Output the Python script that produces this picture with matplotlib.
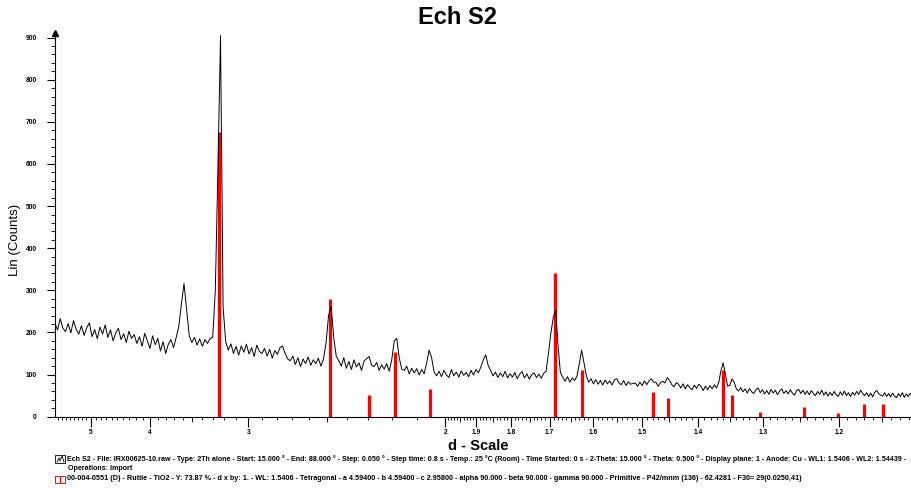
import numpy as np
import matplotlib
matplotlib.use("Agg")
import matplotlib.pyplot as plt
from matplotlib.ticker import FixedLocator, FixedFormatter, MultipleLocator, NullFormatter
from matplotlib.patches import Rectangle
from matplotlib.lines import Line2D

plt.rcParams['font.family'] = ['Liberation Sans', 'DejaVu Sans']

# ---------------- data ----------------
WAVELENGTH = 1.5406          # Cu K-alpha1 (Angstrom)
TWO_THETA_START = 15.0       # degrees
TWO_THETA_STEP = 0.2         # degrees

counts = [
    222, 206, 233, 210, 202, 221, 199, 228, 208, 196,   # 15
    216, 193, 211, 223, 190, 207, 185, 213, 196, 218,   # 17
    188, 206, 180, 199, 210, 183, 197, 176, 203, 186,   # 19
    195, 174, 190, 167, 198, 180, 162, 192, 171, 186,   # 21
    156, 178, 150, 172, 183, 164, 188, 214, 268, 316,   # 23
    255, 192, 176, 188, 170, 185, 167, 183, 174, 186,   # 25
    188, 300, 585, 905, 260, 178, 158, 173, 150, 167,   # 27
    146, 168, 153, 172, 149, 164, 143, 170, 155, 150,   # 29
    162, 144, 160, 139, 157, 148, 164, 168, 150, 137,   # 31
    133, 144, 124, 140, 119, 137, 126, 142, 122, 135,   # 33
    126, 139, 120, 137, 175, 240, 262, 190, 144, 133,   # 35
    120, 140, 115, 131, 112, 135, 118, 128, 110, 132,   # 37
    138, 143, 122, 119, 129, 110, 123, 113, 126, 108,   # 39
    135, 180, 186, 140, 113, 110, 120, 102, 115, 104,   # 41
    114, 99, 112, 102, 128, 158, 140, 106, 97, 108,     # 43
    95, 110, 99, 93, 112, 97, 106, 94, 109, 98,         # 45
    105, 95, 110, 99, 112, 104, 118, 135, 147, 122,     # 47
    110, 97, 106, 93, 104, 95, 108, 92, 102, 94,        # 49
    105, 90, 101, 107, 92, 102, 89, 100, 104, 93,       # 51
    101, 91, 103, 108, 150, 198, 235, 255, 170, 105,    # 53
    94, 84, 95, 82, 92, 86, 96, 125, 158, 128,          # 55
    97, 82, 90, 78, 88, 77, 86, 75, 87, 78,             # 57
    85, 75, 88, 90, 80, 76, 86, 74, 83, 77,             # 59
    79, 80, 72, 82, 74, 85, 76, 85, 90, 82,             # 61
    82, 72, 81, 84, 80, 93, 86, 76, 71, 81,             # 63
    77, 68, 78, 66, 76, 69, 64, 75, 67, 77,             # 65
    72, 62, 73, 64, 74, 66, 76, 68, 82, 110,            # 67
    128, 100, 73, 74, 90, 82, 66, 61, 69, 59,           # 69
    66, 56, 67, 59, 55, 65, 68, 57, 64, 54,             # 71
    62, 53, 65, 56, 63, 52, 61, 66, 55, 62,             # 73
    54, 64, 56, 51, 62, 65, 55, 63, 53, 61,             # 75
    52, 62, 55, 50, 60, 53, 63, 51, 59, 49,             # 77
    58, 50, 60, 52, 48, 59, 51, 61, 50, 57,             # 79
    48, 58, 51, 60, 53, 63, 55, 50, 57, 48,             # 81
    56, 47, 58, 62, 55, 51, 49, 57, 48, 55,             # 83
    47, 56, 49, 45, 55, 48, 57, 46, 54, 48,             # 85
    55, 51,                                             # 87
]

# Rutile reference pattern (00-004-0551): d-spacings and stick heights (counts)
ref_d = [3.247, 2.487, 2.297, 2.188, 2.054, 1.6874, 1.6237, 1.4797,
         1.4528, 1.3598, 1.3465, 1.3041, 1.2441, 1.2015, 1.1700, 1.1485]
ref_intensity = [677, 279, 51, 153, 65, 341, 111, 59,
                 44, 111, 52, 12, 22, 9, 30, 31]

major_d = [5, 4, 3, 2, 1.9, 1.8, 1.7, 1.6, 1.5, 1.4, 1.3, 1.2]
major_labels = ["5", "4", "3", "2", "1.9", "1.8", "1.7", "1.6", "1.5", "1.4", "1.3", "1.2"]
medium_d = [3.5, 2.5, 1.95, 1.85, 1.75, 1.65, 1.55, 1.45, 1.35, 1.25, 1.15]

title = "Ech S2"
xlabel = "d - Scale"
ylabel = "Lin (Counts)"
legend_line1 = ("Ech S2 - File: IRX00625-10.raw - Type: 2Th alone - Start: 15.000 \u00b0 - End: 88.000 \u00b0 - "
                "Step: 0.050 \u00b0 - Step time: 0.8 s - Temp.: 25 \u00b0C (Room) - Time Started: 0 s - "
                "2-Theta: 15.000 \u00b0 - Theta: 0.500 \u00b0 - Display plane: 1 - Anode: Cu - WL1: 1.5406 - "
                "WL2: 1.54439 -")
legend_line2 = "Operations: Import"
legend_line3 = ("00-004-0551 (D) - Rutile - TiO2 - Y: 73.87 % - d x by: 1. - WL: 1.5406 - Tetragonal - "
                "a 4.59400 - b 4.59400 - c 2.95800 - alpha 90.000 - beta 90.000 - gamma 90.000 - "
                "Primitive - P42/mnm (136) - 62.4281 - F30= 29(0.0250,41)")

# ---------------- conversions ----------------
counts = np.array(counts, dtype=float)
two_theta = TWO_THETA_START + TWO_THETA_STEP * np.arange(len(counts))
x_data = 2.0 * np.sin(np.radians(two_theta / 2.0)) / WAVELENGTH   # = 1/d
x_ref = 1.0 / np.array(ref_d)

# ---------------- figure ----------------
W, H = 912, 488
fig = plt.figure(figsize=(W / 100, H / 100), dpi=100)
ax_left, ax_right, ax_top, ax_bottom = 55, 912, 33, 416.7
ax = fig.add_axes([ax_left / W, (H - ax_bottom) / H, (ax_right - ax_left) / W, (ax_bottom - ax_top) / H])

ax.vlines(x_ref, 0, ref_intensity, color='#ff0000', lw=2.3, zorder=2)
ax.plot(x_data, counts, color='black', lw=0.7, zorder=3)

ax.set_xlim(0.16952, 0.89518)
ax.set_ylim(0, 911)

for s in ['top', 'right']:
    ax.spines[s].set_visible(False)
for s in ['left', 'bottom']:
    ax.spines[s].set_linewidth(0.8)

# x ticks (d-scale)
ax.xaxis.set_major_locator(FixedLocator([1.0 / d for d in major_d]))
ax.xaxis.set_major_formatter(FixedFormatter(major_labels))
minor_d = [d for d in np.round(np.arange(2.1, 5.85, 0.1), 2) if d not in major_d]
minor_d += [d for d in np.round(np.arange(1.11, 2.0, 0.01), 2) if d not in major_d]
ax.xaxis.set_minor_locator(FixedLocator([1.0 / d for d in minor_d]))
ax.xaxis.set_minor_formatter(NullFormatter())
ax.tick_params(axis='x', which='major', length=7, width=0.8, direction='out', pad=2,
               labelsize=4.8)
ax.tick_params(axis='x', which='minor', length=2.5, width=0.6, direction='out')
for lab in ax.get_xticklabels():
    lab.set_fontweight('bold')
ax.vlines([1.0 / d for d in medium_d], -0.013, 0, transform=ax.get_xaxis_transform(),
          color='black', lw=0.6, clip_on=False)

# y ticks
ax.yaxis.set_major_locator(MultipleLocator(100))
ax.yaxis.set_minor_locator(MultipleLocator(20))
ax.tick_params(axis='y', which='major', length=6, width=0.8, direction='out', pad=7,
               labelsize=4.8)
ax.tick_params(axis='y', which='minor', length=3, width=0.6, direction='out')
for lab in ax.get_yticklabels():
    lab.set_fontweight('bold')

# arrow at top of y axis
ax.plot([0], [1], marker='^', color='black', markersize=4, transform=ax.transAxes, clip_on=False)

# texts
fig.text(458 / W, 1 - 18 / H, title, ha='center', va='center', fontsize=17, fontweight='bold')
fig.text(478 / W, 1 - 445.5 / H, xlabel, ha='center', va='center', fontsize=10.5, fontweight='bold')
fig.text(15 / W, 1 - 240 / H, ylabel, ha='center', va='center', rotation=90, fontsize=9.5)

fig.text(67 / W, 1 - 459.5 / H, legend_line1, ha='left', va='center', fontsize=5.1, fontweight='bold')
fig.text(68 / W, 1 - 468.5 / H, legend_line2, ha='left', va='center', fontsize=5.1, fontweight='bold')
fig.text(67 / W, 1 - 479 / H, legend_line3, ha='left', va='center', fontsize=5.2, fontweight='bold')

# legend icons (pixel -> figure fraction)
def px(x, y):
    return x / W, 1 - y / H

r1 = Rectangle(px(55.5, 463), 9.5 / W, 8 / H, transform=fig.transFigure, fill=False,
               edgecolor='black', lw=0.6)
fig.add_artist(r1)
fig.add_artist(Line2D([px(57, 462)[0], px(59, 458)[0], px(60, 461)[0], px(62, 456)[0], px(64, 462)[0]],
                      [px(57, 462)[1], px(59, 458)[1], px(60, 461)[1], px(62, 456)[1], px(64, 462)[1]],
                      transform=fig.transFigure, color='black', lw=0.6))
r3 = Rectangle(px(55.5, 483), 9.5 / W, 7.5 / H, transform=fig.transFigure, fill=False,
               edgecolor='#ff0000', lw=0.7)
fig.add_artist(r3)
fig.add_artist(Line2D([px(60, 482)[0], px(60, 477)[0]], [px(60, 482)[1], px(60, 477)[1]],
                      transform=fig.transFigure, color='#ff0000', lw=0.8))

fig.savefig('out.png', dpi=100)
